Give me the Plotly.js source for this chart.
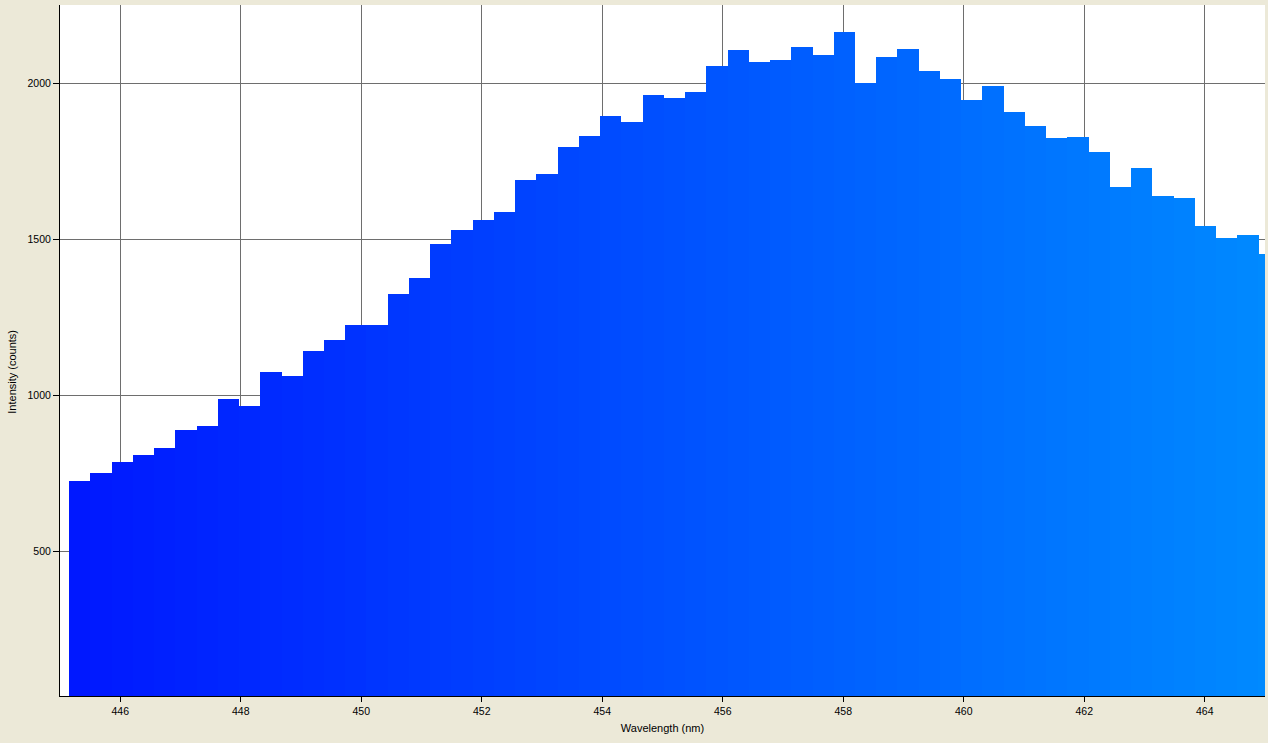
<!DOCTYPE html>
<html>
<head>
<meta charset="utf-8">
<script src="https://cdn.plot.ly/plotly-3.0.1.min.js"></script>
<style>html,body{margin:0;padding:0;background:#ECE9D8;}#chart{width:1268px;height:743px;}</style>
</head>
<body>
<div id="chart"></div>
<script>
// Wavelength bin centres (nm)
const wavelength = [
  445.329, 445.682, 446.034, 446.387, 446.739, 447.092, 447.444, 447.797, 448.149, 448.502,
  448.854, 449.207, 449.559, 449.912, 450.264, 450.617, 450.969, 451.322, 451.674, 452.027,
  452.379, 452.732, 453.084, 453.437, 453.789, 454.142, 454.494, 454.847, 455.199, 455.552,
  455.904, 456.257, 456.609, 456.962, 457.314, 457.667, 458.019, 458.372, 458.724, 459.077,
  459.429, 459.782, 460.134, 460.487, 460.839, 461.192, 461.544, 461.897, 462.249, 462.602,
  462.954, 463.307, 463.659, 464.012, 464.364, 464.717, 465.069
];
// Intensity (counts)
const intensity = [
  727, 752, 787, 810, 832, 890, 903, 989, 967, 1076,
  1063, 1143, 1179, 1226, 1226, 1326, 1377, 1486, 1531, 1563,
  1588, 1691, 1710, 1797, 1832, 1896, 1877, 1964, 1955, 1974,
  2057, 2108, 2070, 2076, 2118, 2092, 2166, 2002, 2086, 2111,
  2041, 2015, 1948, 1993, 1909, 1865, 1826, 1829, 1781, 1669,
  1730, 1640, 1633, 1544, 1505, 1515, 1454
];
const xTicks = [446, 448, 450, 452, 454, 456, 458, 460, 462, 464];
const yTicks = [500, 1000, 1500, 2000];

// blue gradient across the spectrum
const colors = wavelength.map((w, i) => {
  const f = i / (wavelength.length - 1);
  const g = Math.round(24 + 114 * f);
  return 'rgb(0,' + g + ',255)';
});

const trace = {
  type: 'bar',
  x: wavelength,
  y: intensity,
  width: 0.3545,
  marker: {color: colors, line: {width: 0}},
  hoverinfo: 'x+y'
};

const fontFam = '"Liberation Sans", Arial, sans-serif';
const layout = {
  width: 1268, height: 743,
  margin: {l: 60, r: 3, t: 5, b: 47, pad: 0},
  paper_bgcolor: '#ECE9D8',
  plot_bgcolor: '#FFFFFF',
  bargap: 0,
  showlegend: false,
  font: {family: fontFam, size: 10.5, color: '#000'},
  xaxis: {
    range: [445, 465],
    tickvals: xTicks,
    ticktext: xTicks.map(String),
    ticks: 'outside', ticklen: 5, tickcolor: '#000', tickwidth: 1,
    showgrid: true, gridcolor: '#6E6E6E', gridwidth: 1,
    showline: true, linecolor: '#000', linewidth: 1,
    zeroline: false, mirror: false,
    tickfont: {family: fontFam, size: 10.5, color: '#000'},
    title: {text: 'Wavelength (nm)', font: {family: fontFam, size: 11, color: '#000'}, standoff: 8}
  },
  yaxis: {
    range: [37.5, 2252],
    tickvals: yTicks,
    ticktext: yTicks.map(String),
    ticks: 'outside', ticklen: 6, tickcolor: '#000', tickwidth: 1,
    showgrid: true, gridcolor: '#6E6E6E', gridwidth: 1,
    showline: true, linecolor: '#000', linewidth: 1,
    zeroline: false, mirror: false,
    tickfont: {family: fontFam, size: 10.5, color: '#000'}
  },
  annotations: [{
    text: 'Intensity (counts)',
    xref: 'paper', yref: 'paper',
    x: -0.04, y: 0.469,
    xanchor: 'center', yanchor: 'middle',
    textangle: -90, showarrow: false,
    font: {family: fontFam, size: 11, color: '#000'}
  }]
};

Plotly.newPlot('chart', [trace], layout, {displayModeBar: false, staticPlot: true});
</script>
</body>
</html>
